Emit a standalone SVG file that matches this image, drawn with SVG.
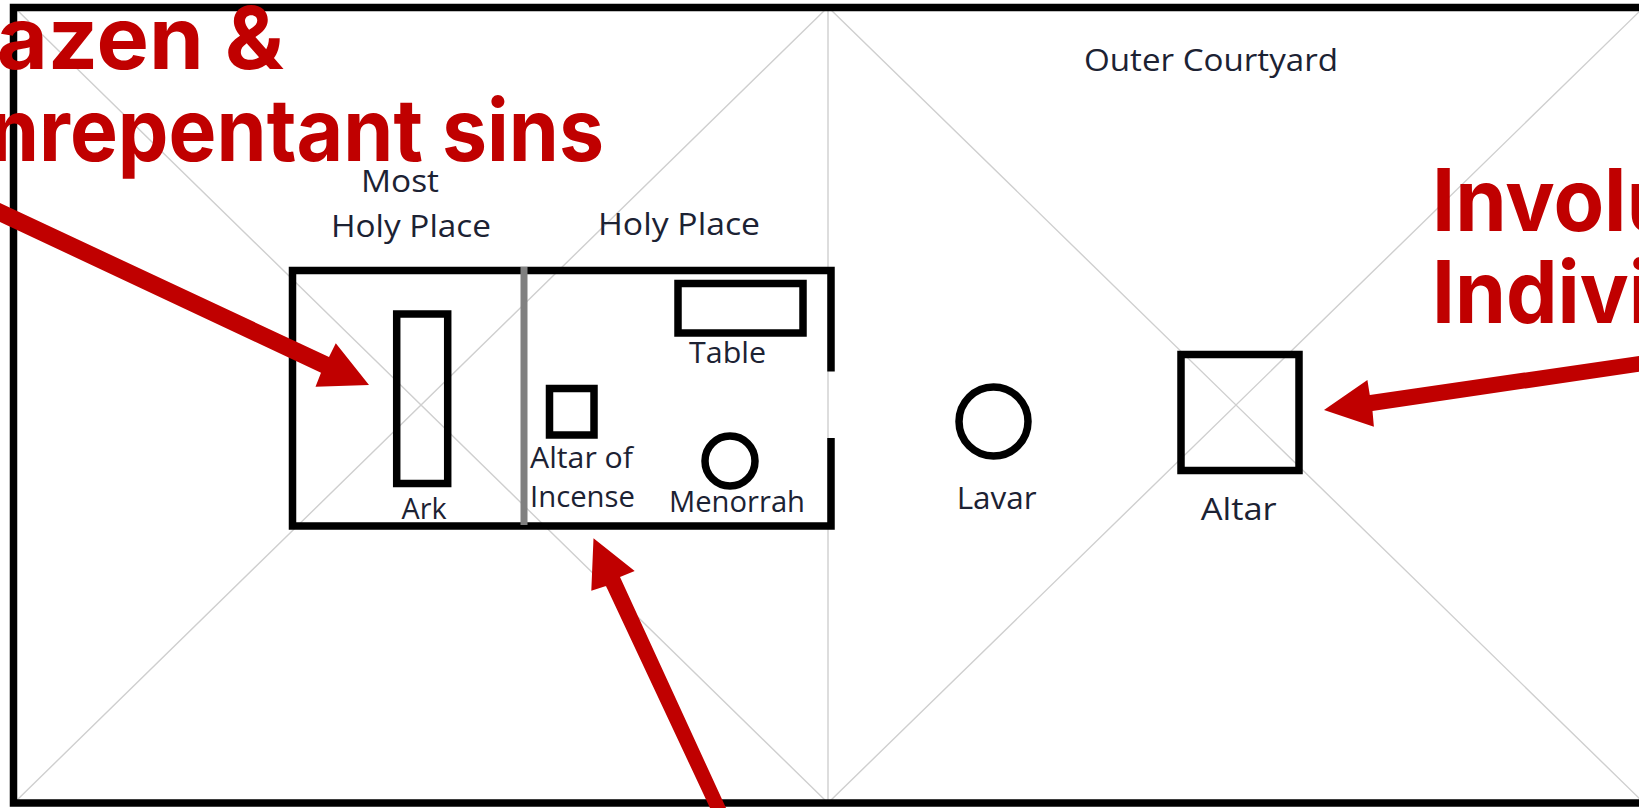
<svg xmlns="http://www.w3.org/2000/svg" width="1639" height="808" viewBox="0 0 1639 808">
<style>
.d{stroke:#cfcfcf;stroke-width:1.4;fill:none}
.b{stroke:#000;stroke-width:7.500;fill:none}
.t{font-family:"Open Sans","Noto Sans",sans-serif;font-size:30.500px;fill:#1c2233}
.s{font-size:29px}
.r{font-family:Inter,"Open Sans",sans-serif;font-weight:700;font-size:86px;fill:#c00000}
.a{fill:#c00000}
</style>
<rect width="1639" height="808" fill="#fff"/>
<g id="courtyard-lines">
<path class="d" d="M14 7L828 803M828 7L14 803M828 7V803M828 7L1644 803M1644 7L828 803"/>
</g>
<g id="outer-courtyard">
<path class="b" d="M1639 7.500H13.500V803H1639"/>
<text class="t" x="1084" y="71" textLength="254" lengthAdjust="spacingAndGlyphs">Outer Courtyard</text>
</g>
<g id="sanctuary">
<path class="b" d="M831 371.500V270.500H292.500V526H831V438"/>
<path d="M524 267V525" stroke="#808080" stroke-width="7" fill="none"/>
</g>
<g id="most-holy-place">
<text class="t" x="361" y="192" textLength="78" lengthAdjust="spacingAndGlyphs">Most</text>
<text class="t" x="331" y="237" textLength="160" lengthAdjust="spacingAndGlyphs">Holy Place</text>
</g>
<g id="holy-place">
<text class="t" x="598" y="235" textLength="162" lengthAdjust="spacingAndGlyphs">Holy Place</text>
</g>
<g id="ark">
<rect class="b" x="396.700" y="314" width="51" height="169.500"/>
<text class="t s" x="401.600" y="519" textLength="45" lengthAdjust="spacingAndGlyphs">Ark</text>
</g>
<g id="table">
<rect class="b" x="678" y="283.500" width="125" height="49.500"/>
<text class="t s" x="689" y="363" textLength="77" lengthAdjust="spacingAndGlyphs">Table</text>
</g>
<g id="altar-of-incense">
<rect class="b" x="549.500" y="388.500" width="44.500" height="46.500"/>
<text class="t s" x="530" y="468" textLength="103" lengthAdjust="spacingAndGlyphs">Altar of</text>
<text class="t s" x="530" y="507" textLength="105" lengthAdjust="spacingAndGlyphs">Incense</text>
</g>
<g id="menorrah">
<circle class="b" cx="730" cy="461" r="25"/>
<text class="t s" x="669" y="512" textLength="136" lengthAdjust="spacingAndGlyphs">Menorrah</text>
</g>
<g id="lavar">
<circle class="b" cx="993.500" cy="421.500" r="34.500"/>
<text class="t" x="956.700" y="509" textLength="80" lengthAdjust="spacingAndGlyphs">Lavar</text>
</g>
<g id="altar">
<rect class="b" x="1181" y="354.500" width="118" height="116"/>
<text class="t" x="1200.700" y="520" textLength="76" lengthAdjust="spacingAndGlyphs">Altar</text>
</g>
<g id="connectors">
<polygon class="a" points="0,203 329,357 335.800,343.300 369,385 315.500,386.700 321,372.700 0,222"/>
<polygon class="a" points="593.500,538.300 634.700,571 620,577 726,808 710,808 606,586 591.300,590.700"/>
<polygon class="a" points="1324,410 1367.400,380 1369.800,395 1639,356 1639,371.700 1372.500,411 1373.900,426.700"/>
</g>
<g id="labels">
<text class="r" x="-38" y="69" textLength="322" lengthAdjust="spacingAndGlyphs">razen &amp;</text>
<text class="r" x="-11" y="161" textLength="615" lengthAdjust="spacingAndGlyphs">nrepentant sins</text>
<text class="r" x="1432" y="231" textLength="246" lengthAdjust="spacingAndGlyphs">Involu</text>
<text class="r" x="1432" y="323" textLength="219" lengthAdjust="spacingAndGlyphs">Indivi</text>
</g>
</svg>
